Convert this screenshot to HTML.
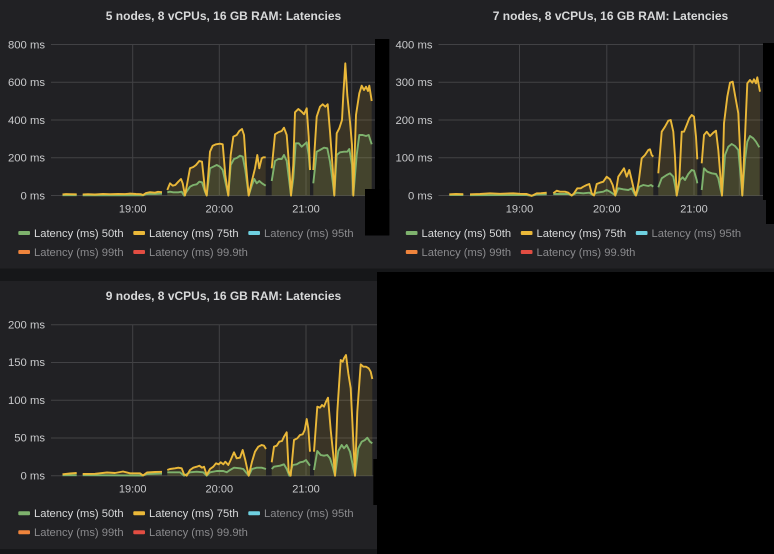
<!DOCTYPE html>
<html>
<head>
<meta charset="utf-8">
<style>
html,body{margin:0;padding:0;background:#161719;}
body{width:774px;height:554px;overflow:hidden;}
svg{display:block;}
text{font-family:"Liberation Sans",Arial,sans-serif;}
.t{fill:#d8d9da;font-size:12px;font-weight:bold;}
.yl{fill:#c9cacc;font-size:11.3px;text-anchor:end;}
.xl{fill:#c9cacc;font-size:11px;text-anchor:middle;}
.lg{fill:#d8d9da;font-size:11.2px;}
.lh{fill:#8a8a8d;font-size:11.2px;}
.g{stroke:#424245;stroke-width:1;fill:none;}
.ly{fill:none;stroke:#eab839;stroke-width:1.9;stroke-linejoin:round;}
.lgr{fill:none;stroke:#7eb26d;stroke-width:1.9;stroke-linejoin:round;}
.fy{fill:#eab839;fill-opacity:0.13;stroke:none;}
.fg{fill:#7eb26d;fill-opacity:0.12;stroke:none;}
</style>
</head>
<body>
<svg width="774" height="554" viewBox="0 0 774 554" xmlns="http://www.w3.org/2000/svg">
<rect x="0" y="0" width="774" height="554" fill="#161719"/>
<rect x="0" y="0" width="774" height="268.5" fill="#212124"/>
<rect x="0" y="281" width="377" height="268" fill="#212124"/>

<g id="p1">
<text class="t" x="223.5" y="20" text-anchor="middle">5 nodes, 8 vCPUs, 16 GB RAM: Latencies</text>
<line class="g" x1="51" y1="44.5" x2="376" y2="44.5"/>
<line class="g" x1="51" y1="82.25" x2="376" y2="82.25"/>
<line class="g" x1="51" y1="120" x2="376" y2="120"/>
<line class="g" x1="51" y1="157.75" x2="376" y2="157.75"/>
<line class="g" x1="51" y1="195.5" x2="376" y2="195.5"/>
<line class="g" x1="132.7" y1="44.5" x2="132.7" y2="195.5"/>
<line class="g" x1="219.3" y1="44.5" x2="219.3" y2="195.5"/>
<line class="g" x1="306" y1="44.5" x2="306" y2="195.5"/>
<line class="g" x1="351.7" y1="44.5" x2="351.7" y2="195.5"/>
<text class="yl" x="45" y="48.3">800 ms</text>
<text class="yl" x="45" y="86">600 ms</text>
<text class="yl" x="45" y="123.8">400 ms</text>
<text class="yl" x="45" y="161.5">200 ms</text>
<text class="yl" x="45" y="199.3">0 ms</text>
<text class="xl" x="132.7" y="212.3">19:00</text>
<text class="xl" x="219.3" y="212.3">20:00</text>
<text class="xl" x="306" y="212.3">21:00</text>
<rect x="18.3" y="231" width="11.7" height="4" rx="1" fill="#7eb26d"/>
<text class="lg" x="34" y="236.8">Latency (ms) 50th</text>
<rect x="133.3" y="231" width="11.7" height="4" rx="1" fill="#eab839"/>
<text class="lg" x="149" y="236.8">Latency (ms) 75th</text>
<rect x="248.3" y="231" width="11.7" height="4" rx="1" fill="#6ed0e0"/>
<text class="lh" x="264" y="236.8">Latency (ms) 95th</text>
<rect x="18.3" y="250" width="11.7" height="4" rx="1" fill="#ef843c"/>
<text class="lh" x="34" y="255.8">Latency (ms) 99th</text>
<rect x="133.3" y="250" width="11.7" height="4" rx="1" fill="#e24d42"/>
<text class="lh" x="149" y="255.8">Latency (ms) 99.9th</text>
</g>

<g transform="translate(387.5,0)">
<text class="t" x="223" y="20" text-anchor="middle">7 nodes, 8 vCPUs, 16 GB RAM: Latencies</text>
<line class="g" x1="51" y1="44.5" x2="376" y2="44.5"/>
<line class="g" x1="51" y1="82.25" x2="376" y2="82.25"/>
<line class="g" x1="51" y1="120" x2="376" y2="120"/>
<line class="g" x1="51" y1="157.75" x2="376" y2="157.75"/>
<line class="g" x1="51" y1="195.5" x2="376" y2="195.5"/>
<line class="g" x1="132" y1="44.5" x2="132" y2="195.5"/>
<line class="g" x1="219.3" y1="44.5" x2="219.3" y2="195.5"/>
<line class="g" x1="306.5" y1="44.5" x2="306.5" y2="195.5"/>
<line class="g" x1="351.8" y1="44.5" x2="351.8" y2="195.5"/>
<text class="yl" x="45" y="48.3">400 ms</text>
<text class="yl" x="45" y="86">300 ms</text>
<text class="yl" x="45" y="123.8">200 ms</text>
<text class="yl" x="45" y="161.5">100 ms</text>
<text class="yl" x="45" y="199.3">0 ms</text>
<text class="xl" x="132" y="212.3">19:00</text>
<text class="xl" x="219.3" y="212.3">20:00</text>
<text class="xl" x="306.5" y="212.3">21:00</text>
<rect x="18.3" y="231" width="11.7" height="4" rx="1" fill="#7eb26d"/>
<text class="lg" x="34" y="236.8">Latency (ms) 50th</text>
<rect x="133.3" y="231" width="11.7" height="4" rx="1" fill="#eab839"/>
<text class="lg" x="149" y="236.8">Latency (ms) 75th</text>
<rect x="248.3" y="231" width="11.7" height="4" rx="1" fill="#6ed0e0"/>
<text class="lh" x="264" y="236.8">Latency (ms) 95th</text>
<rect x="18.3" y="250" width="11.7" height="4" rx="1" fill="#ef843c"/>
<text class="lh" x="34" y="255.8">Latency (ms) 99th</text>
<rect x="133.3" y="250" width="11.7" height="4" rx="1" fill="#e24d42"/>
<text class="lh" x="149" y="255.8">Latency (ms) 99.9th</text>
</g>

<g transform="translate(0,280.2)">
<text class="t" x="223.5" y="20" text-anchor="middle">9 nodes, 8 vCPUs, 16 GB RAM: Latencies</text>
<line class="g" x1="51" y1="44.5" x2="377" y2="44.5"/>
<line class="g" x1="51" y1="82.25" x2="377" y2="82.25"/>
<line class="g" x1="51" y1="120" x2="377" y2="120"/>
<line class="g" x1="51" y1="157.75" x2="377" y2="157.75"/>
<line class="g" x1="51" y1="195.5" x2="377" y2="195.5"/>
<line class="g" x1="132.7" y1="44.5" x2="132.7" y2="195.5"/>
<line class="g" x1="219.3" y1="44.5" x2="219.3" y2="195.5"/>
<line class="g" x1="306" y1="44.5" x2="306" y2="195.5"/>
<line class="g" x1="352" y1="44.5" x2="352" y2="195.5"/>
<text class="yl" x="45" y="48.3">200 ms</text>
<text class="yl" x="45" y="86">150 ms</text>
<text class="yl" x="45" y="123.8">100 ms</text>
<text class="yl" x="45" y="161.5">50 ms</text>
<text class="yl" x="45" y="199.3">0 ms</text>
<text class="xl" x="132.7" y="212.3">19:00</text>
<text class="xl" x="219.3" y="212.3">20:00</text>
<text class="xl" x="306" y="212.3">21:00</text>
<rect x="18.3" y="231" width="11.7" height="4" rx="1" fill="#7eb26d"/>
<text class="lg" x="34" y="236.8">Latency (ms) 50th</text>
<rect x="133.3" y="231" width="11.7" height="4" rx="1" fill="#eab839"/>
<text class="lg" x="149" y="236.8">Latency (ms) 75th</text>
<rect x="248.3" y="231" width="11.7" height="4" rx="1" fill="#6ed0e0"/>
<text class="lh" x="264" y="236.8">Latency (ms) 95th</text>
<rect x="18.3" y="250" width="11.7" height="4" rx="1" fill="#ef843c"/>
<text class="lh" x="34" y="255.8">Latency (ms) 99th</text>
<rect x="133.3" y="250" width="11.7" height="4" rx="1" fill="#e24d42"/>
<text class="lh" x="149" y="255.8">Latency (ms) 99.9th</text>
</g>

<!-- ===== Panel 1 data ===== -->
<polygon class="fg" points="62.5,195.5 62.5,195.2 76.7,195.2 76.7,195.5"/>
<polygon class="fg" points="82.7,195.5 82.7,195.3 143,195.3 146,194.2 150,193.8 155,193.9 162,193.6 162,195.5"/>
<polygon class="fg" points="167.3,195.5 167.3,192.3 170,191.7 173.3,192.3 178.3,192.3 181.7,191.7 184,195.5 190,186.7 193.3,185 196.7,184.3 199.3,181.7 202,182.3 205,191.7 206.7,195.5 210,168.3 213.3,166.7 216.7,165 220,166.7 222.7,170 225.3,181.7 228.3,195.5 230.7,165 234,159 237.3,157.7 240,155.7 242.7,156.7 245.3,170 248.7,195.5 252,185 254.3,179 256.7,183.3 259.3,181 262,183.3 265.7,185.7 265.7,195.5"/>
<polygon class="fg" points="271.7,195.5 271.7,181 275,161 278.3,159 281.7,159 284,155 286.7,161 289.3,181.7 291,195.5 293.3,178.3 295.7,143.3 298.7,143.3 301.7,146.7 306.7,142.3 308.7,155 310,170 310,195.5"/>
<polygon class="fg" points="313.3,195.5 313.3,183.3 316.7,151.7 320,150 324,147.7 327.3,148.3 330,161.7 332.7,181.7 334.3,195.5 336.7,155 340,152.3 344,151.7 347.3,151.7 349.3,149 352,165 353.3,195.5 356.7,155 359.3,135 362.7,135 366,136 368.7,135 371.7,144.3 371.7,195.5"/>
<polygon class="fy" points="62.5,195.5 62.5,194.4 66,194.1 70,194.2 76.7,194.3 76.7,195.5"/>
<polygon class="fy" points="82.7,195.5 82.7,194.4 88,194.2 95,194.5 103,193.9 110,194.2 118,194 125,194.1 130,193.6 136,194 141,194.2 143,195 146,193 150,192.2 155,192.7 158,191.8 162,192.2 162,195.5"/>
<polygon class="fy" points="167.3,195.5 167.3,190 170,183.3 172.7,185.7 175.3,185 178.3,181.7 181,179 182.7,183.3 185,195.5 190,168.3 193.3,167 196,165 199.3,161 202,161.7 205,190 206.7,195.5 210,151.7 212.7,145.7 216,144.3 220,143.7 222.7,144.3 225.3,175 228.3,195.5 230.7,155 233.3,136.7 236.7,135 239.3,131 242,129 244,135 246,165 248.7,195.5 251.7,181.7 255,168.3 257.3,155 259.3,168.3 261.7,158.3 263.3,157.3 265.7,157.3 265.7,195.5"/>
<polygon class="fy" points="271.7,195.5 271.7,168.3 275,134.3 278.3,132.3 281.7,131 284,127.7 286.7,135 289.3,168.3 291,195.5 293.3,165 295,112.3 298.3,109 301.7,111.7 304,114.3 306.7,108.3 308.7,136.7 310,170 310,195.5"/>
<polygon class="fy" points="313.3,195.5 313.3,170 316.7,116.7 320,106.7 322.7,104.3 325.3,106.7 327.7,104.3 330,131.7 332.7,168.3 334.3,195.5 336.7,133.3 339.3,128.3 342,120 343.3,95 345.3,63.3 347.3,95 350,121.7 352,145 353.3,195.5 356,115 359.3,93.3 361.7,85.7 364,90 366,86.7 368,91 369.3,85.7 371.7,101 371.7,195.5"/>
<polyline class="lgr" points="62.5,195.2 76.7,195.2"/>
<polyline class="lgr" points="82.7,195.3 143,195.3 146,194.2 150,193.8 155,193.9 162,193.6"/>
<polyline class="lgr" points="167.3,192.3 170,191.7 173.3,192.3 178.3,192.3 181.7,191.7 184,195.5 190,186.7 193.3,185 196.7,184.3 199.3,181.7 202,182.3 205,191.7 206.7,195.5 210,168.3 213.3,166.7 216.7,165 220,166.7 222.7,170 225.3,181.7 228.3,195.5 230.7,165 234,159 237.3,157.7 240,155.7 242.7,156.7 245.3,170 248.7,195.5 252,185 254.3,179 256.7,183.3 259.3,181 262,183.3 265.7,185.7"/>
<polyline class="lgr" points="271.7,181 275,161 278.3,159 281.7,159 284,155 286.7,161 289.3,181.7 291,195.5 293.3,178.3 295.7,143.3 298.7,143.3 301.7,146.7 306.7,142.3 308.7,155 310,170"/>
<polyline class="lgr" points="313.3,183.3 316.7,151.7 320,150 324,147.7 327.3,148.3 330,161.7 332.7,181.7 334.3,195.5 336.7,155 340,152.3 344,151.7 347.3,151.7 349.3,149 352,165 353.3,195.5 356.7,155 359.3,135 362.7,135 366,136 368.7,135 371.7,144.3"/>
<polyline class="ly" points="62.5,194.4 66,194.1 70,194.2 76.7,194.3"/>
<polyline class="ly" points="82.7,194.4 88,194.2 95,194.5 103,193.9 110,194.2 118,194 125,194.1 130,193.6 136,194 141,194.2 143,195 146,193 150,192.2 155,192.7 158,191.8 162,192.2"/>
<polyline class="ly" points="167.3,190 170,183.3 172.7,185.7 175.3,185 178.3,181.7 181,179 182.7,183.3 185,195.5 190,168.3 193.3,167 196,165 199.3,161 202,161.7 205,190 206.7,195.5 210,151.7 212.7,145.7 216,144.3 220,143.7 222.7,144.3 225.3,175 228.3,195.5 230.7,155 233.3,136.7 236.7,135 239.3,131 242,129 244,135 246,165 248.7,195.5 251.7,181.7 255,168.3 257.3,155 259.3,168.3 261.7,158.3 263.3,157.3 265.7,157.3"/>
<polyline class="ly" points="271.7,168.3 275,134.3 278.3,132.3 281.7,131 284,127.7 286.7,135 289.3,168.3 291,195.5 293.3,165 295,112.3 298.3,109 301.7,111.7 304,114.3 306.7,108.3 308.7,136.7 310,170"/>
<polyline class="ly" points="313.3,170 316.7,116.7 320,106.7 322.7,104.3 325.3,106.7 327.7,104.3 330,131.7 332.7,168.3 334.3,195.5 336.7,133.3 339.3,128.3 342,120 343.3,95 345.3,63.3 347.3,95 350,121.7 352,145 353.3,195.5 356,115 359.3,93.3 361.7,85.7 364,90 366,86.7 368,91 369.3,85.7 371.7,101"/>

<!-- ===== Panel 2 data ===== -->
<polygon class="fg" points="449.3,195.5 449.3,195 463.3,195 463.3,195.5"/>
<polygon class="fg" points="470,195.5 470,195.2 526.7,195 531.7,195.8 536.7,194.5 546.7,194.3 546.7,195.5"/>
<polygon class="fg" points="553.3,195.5 553.3,194 560,194 568.3,194 571.7,195.5 576.7,192.7 583.3,193.3 589.3,192.7 592.7,195 596.7,192.7 603.3,191.7 606.7,190 610,191.7 613.3,194 615.3,195.5 618.3,188.3 623.3,189.3 628.3,190 631.7,188.3 635,195 636,195.5 639.3,186.7 643.3,185 648.3,186 651,185 653.3,186.7 653.3,195.5"/>
<polygon class="fg" points="658.3,195.5 658.3,187.3 661.7,178.3 666.7,175 670,173.3 673.3,176.7 675,185 676.7,195.5 680,180 682.7,177.3 685,180 688.3,174 691.7,170 694,170.7 696.7,180 697.3,183.3 697.3,195.5"/>
<polygon class="fg" points="701.7,195.5 701.7,190 704,168.3 707.3,171.7 711.7,173.3 716,174 718.3,178.3 720.7,190 722,195.5 725,155 728.3,146.7 731.7,144 735,146 738.3,150 740.7,176.7 742.3,195.5 745,160 747.3,141.7 750,136 753.3,138.3 756,141.7 759.3,147.3 759.3,195.5"/>
<polygon class="fy" points="449.3,195.5 449.3,194.3 456,194 463.3,194.2 463.3,195.5"/>
<polygon class="fy" points="470,195.5 470,194.3 480,194 490,193.3 500,193.8 513.3,193.3 520,193.8 526.7,194 531.7,195.8 536.7,193.3 541,193.2 546.7,192.7 546.7,195.5"/>
<polygon class="fy" points="553.3,195.5 553.3,193.3 556.7,190.7 560,191.7 565,191.7 568.3,192.7 571.7,195.5 574,193.3 577.3,188.3 580.7,188.3 583.3,186.7 586.7,185 589.3,184 591.7,193.3 594,195.5 596.7,184 600,182.7 603.3,181.7 606.7,176.7 610,179.3 612.7,185 615.3,195.5 618.3,176.7 621.7,171.7 624,168.3 626.7,176.7 629.3,170 631.7,180 634,190 636,195.5 638.7,181.7 641.7,158.3 645,155 648.3,150 650,149.3 651.7,155 653.3,156.7 653.3,195.5"/>
<polygon class="fy" points="658.3,195.5 658.3,173.3 661.7,131.7 665,126.7 668.3,120.7 670.7,120 673.3,131.7 675,156.7 676.7,195.5 679.3,180 681.7,131.7 684,131.7 686.7,125 689.3,118.3 691.7,115 694,116.7 696,136.7 697.3,159.3 697.3,195.5"/>
<polygon class="fy" points="701.7,195.5 701.7,163.3 704,135 706.7,131.7 710,136 713.3,132.7 716,130.7 718.3,150 720.7,180 722,195.5 724,123.3 727.3,96.7 730,82.7 732.7,81.7 735,95 738.3,113.3 740.7,163.3 742.3,195.5 745,136.7 747.3,83.3 750,80 752.3,82.7 754,79.3 756,83.3 757.3,77.3 760,91.7 760,195.5"/>
<polyline class="lgr" points="449.3,195 463.3,195"/>
<polyline class="lgr" points="470,195.2 526.7,195 531.7,195.8 536.7,194.5 546.7,194.3"/>
<polyline class="lgr" points="553.3,194 560,194 568.3,194 571.7,195.5 576.7,192.7 583.3,193.3 589.3,192.7 592.7,195 596.7,192.7 603.3,191.7 606.7,190 610,191.7 613.3,194 615.3,195.5 618.3,188.3 623.3,189.3 628.3,190 631.7,188.3 635,195 636,195.5 639.3,186.7 643.3,185 648.3,186 651,185 653.3,186.7"/>
<polyline class="lgr" points="658.3,187.3 661.7,178.3 666.7,175 670,173.3 673.3,176.7 675,185 676.7,195.5 680,180 682.7,177.3 685,180 688.3,174 691.7,170 694,170.7 696.7,180 697.3,183.3"/>
<polyline class="lgr" points="701.7,190 704,168.3 707.3,171.7 711.7,173.3 716,174 718.3,178.3 720.7,190 722,195.5 725,155 728.3,146.7 731.7,144 735,146 738.3,150 740.7,176.7 742.3,195.5 745,160 747.3,141.7 750,136 753.3,138.3 756,141.7 759.3,147.3"/>
<polyline class="ly" points="449.3,194.3 456,194 463.3,194.2"/>
<polyline class="ly" points="470,194.3 480,194 490,193.3 500,193.8 513.3,193.3 520,193.8 526.7,194 531.7,195.8 536.7,193.3 541,193.2 546.7,192.7"/>
<polyline class="ly" points="553.3,193.3 556.7,190.7 560,191.7 565,191.7 568.3,192.7 571.7,195.5 574,193.3 577.3,188.3 580.7,188.3 583.3,186.7 586.7,185 589.3,184 591.7,193.3 594,195.5 596.7,184 600,182.7 603.3,181.7 606.7,176.7 610,179.3 612.7,185 615.3,195.5 618.3,176.7 621.7,171.7 624,168.3 626.7,176.7 629.3,170 631.7,180 634,190 636,195.5 638.7,181.7 641.7,158.3 645,155 648.3,150 650,149.3 651.7,155 653.3,156.7"/>
<polyline class="ly" points="658.3,173.3 661.7,131.7 665,126.7 668.3,120.7 670.7,120 673.3,131.7 675,156.7 676.7,195.5 679.3,180 681.7,131.7 684,131.7 686.7,125 689.3,118.3 691.7,115 694,116.7 696,136.7 697.3,159.3"/>
<polyline class="ly" points="701.7,163.3 704,135 706.7,131.7 710,136 713.3,132.7 716,130.7 718.3,150 720.7,180 722,195.5 724,123.3 727.3,96.7 730,82.7 732.7,81.7 735,95 738.3,113.3 740.7,163.3 742.3,195.5 745,136.7 747.3,83.3 750,80 752.3,82.7 754,79.3 756,83.3 757.3,77.3 760,91.7"/>

<!-- ===== Panel 3 data ===== -->
<polygon class="fg" points="62.5,475.7 62.5,475.2 76.7,475.2 76.7,475.7"/>
<polygon class="fg" points="82.7,475.7 82.7,475.2 143,475.5 147,474 162,473.6 162,475.7"/>
<polygon class="fg" points="167.3,475.7 167.3,472.3 173.3,472.3 180,472.3 184,475.7 190,472.3 196.7,471.7 203.3,472.3 206.7,475.7 210,472.3 216.7,471 223.3,471 226.7,472.3 230,470 234,467.7 240,468.3 243.3,469 246.7,473.3 248.7,475.7 252,469 256.7,467.7 261.7,467.7 266,469 266,475.7"/>
<polygon class="fg" points="271.7,475.7 271.7,469 274,466.7 280,465.7 284,464.3 286.7,469 289.3,475.7 292.7,465 296.7,464.3 300,462.3 303.3,461.7 306,460 308.3,463.3 310,465.7 310,475.7"/>
<polygon class="fg" points="314,475.7 314,470 317.3,451 320.7,455 324,455.7 327.3,455 330,458.3 332.7,466.7 335,475.7 338.3,451 341.7,445 344,448.3 346.7,445 350,451.7 352.7,465 355,475.7 358.3,448.3 361.7,441.7 365,440 367.3,437.7 370,441.7 372.3,443.3 372.3,475.7"/>
<polygon class="fy" points="62.5,475.7 62.5,474.3 70,473.5 76.7,473 76.7,475.7"/>
<polygon class="fy" points="82.7,475.7 82.7,474 95,473.8 107,472.5 115,473 123,471.5 130,473.3 140,473.3 143,475.5 147,472.5 155,472 162,471.8 162,475.7"/>
<polygon class="fy" points="167.3,475.7 167.3,470 170,469 175,468.3 178.3,467.7 181.7,468.3 184,474.3 186.7,475.7 190,470 193.3,467.7 196.7,466.7 199.3,465.7 202,467.7 204,466.7 206.7,475 210,469 213.3,466.7 216,463.3 218.7,464.3 220.7,462.3 223.3,464.3 225.3,461.7 228.3,465 230.7,460 234,452.3 236.7,458.3 240,457.7 242.7,450 245.3,460 248.7,475.7 252,461.7 255,451.7 258.3,446.7 261.7,445 264,445.7 266,449 266,475.7"/>
<polygon class="fy" points="271.7,475.7 271.7,462.3 274,446.7 276.7,445.7 279.3,441.7 282,441 284,436.7 286.7,432.3 288.7,471.7 290.7,475.7 294,440 297.3,438.3 300,435 302.7,434.3 304.7,430 306.7,419 308.3,428.3 310,451.7 310,475.7"/>
<polygon class="fy" points="314,475.7 314,451.7 317.3,406.7 320,407.7 322,405 324,406.7 325.7,402.3 328,397.7 330.7,430 333.3,455 335,475.7 337.3,411.7 340.7,360 342.7,361.7 344,358.3 346,355 348.3,373.3 350.7,388.3 352.7,428.3 355,475.7 357.3,411.7 360.7,364.3 363.3,366.7 366,366.7 368.7,368.3 370.7,371.7 372.3,379 372.3,475.7"/>
<polyline class="lgr" points="62.5,475.2 76.7,475.2"/>
<polyline class="lgr" points="82.7,475.2 143,475.5 147,474 162,473.6"/>
<polyline class="lgr" points="167.3,472.3 173.3,472.3 180,472.3 184,475.7 190,472.3 196.7,471.7 203.3,472.3 206.7,475.7 210,472.3 216.7,471 223.3,471 226.7,472.3 230,470 234,467.7 240,468.3 243.3,469 246.7,473.3 248.7,475.7 252,469 256.7,467.7 261.7,467.7 266,469"/>
<polyline class="lgr" points="271.7,469 274,466.7 280,465.7 284,464.3 286.7,469 289.3,475.7 292.7,465 296.7,464.3 300,462.3 303.3,461.7 306,460 308.3,463.3 310,465.7"/>
<polyline class="lgr" points="314,470 317.3,451 320.7,455 324,455.7 327.3,455 330,458.3 332.7,466.7 335,475.7 338.3,451 341.7,445 344,448.3 346.7,445 350,451.7 352.7,465 355,475.7 358.3,448.3 361.7,441.7 365,440 367.3,437.7 370,441.7 372.3,443.3"/>
<polyline class="ly" points="62.5,474.3 70,473.5 76.7,473"/>
<polyline class="ly" points="82.7,474 95,473.8 107,472.5 115,473 123,471.5 130,473.3 140,473.3 143,475.5 147,472.5 155,472 162,471.8"/>
<polyline class="ly" points="167.3,470 170,469 175,468.3 178.3,467.7 181.7,468.3 184,474.3 186.7,475.7 190,470 193.3,467.7 196.7,466.7 199.3,465.7 202,467.7 204,466.7 206.7,475 210,469 213.3,466.7 216,463.3 218.7,464.3 220.7,462.3 223.3,464.3 225.3,461.7 228.3,465 230.7,460 234,452.3 236.7,458.3 240,457.7 242.7,450 245.3,460 248.7,475.7 252,461.7 255,451.7 258.3,446.7 261.7,445 264,445.7 266,449"/>
<polyline class="ly" points="271.7,462.3 274,446.7 276.7,445.7 279.3,441.7 282,441 284,436.7 286.7,432.3 288.7,471.7 290.7,475.7 294,440 297.3,438.3 300,435 302.7,434.3 304.7,430 306.7,419 308.3,428.3 310,451.7"/>
<polyline class="ly" points="314,451.7 317.3,406.7 320,407.7 322,405 324,406.7 325.7,402.3 328,397.7 330.7,430 333.3,455 335,475.7 337.3,411.7 340.7,360 342.7,361.7 344,358.3 346,355 348.3,373.3 350.7,388.3 352.7,428.3 355,475.7 357.3,411.7 360.7,364.3 363.3,366.7 366,366.7 368.7,368.3 370.7,371.7 372.3,379"/>

<rect x="375" y="39" width="14.3" height="196" fill="#000"/>
<rect x="365" y="189" width="24.3" height="46.5" fill="#000"/>
<rect x="763" y="43" width="11" height="157" fill="#000"/>
<rect x="766" y="199" width="8" height="25" fill="#000"/>
<rect x="373.3" y="459" width="4" height="46" fill="#000"/>
<rect x="377" y="272" width="397" height="282" fill="#000"/>
</svg>
</body>
</html>
